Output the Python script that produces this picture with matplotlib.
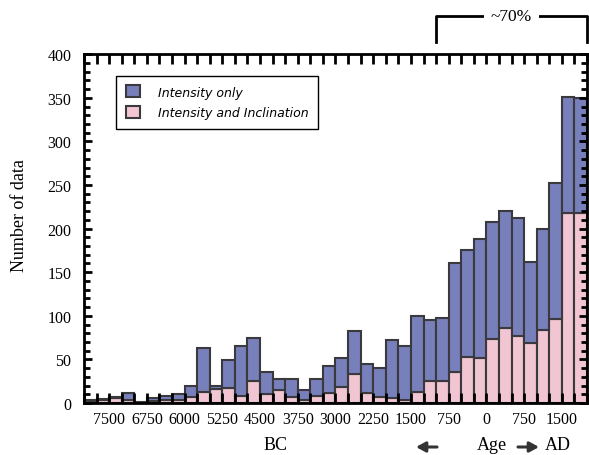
"""
Histograma empilhado do número de dados arqueomagnéticos por idade.
"""

import matplotlib.pyplot as plt
import numpy as np
from matplotlib.patches import Patch
from matplotlib.ticker import MultipleLocator
import matplotlib.transforms as mtransforms

# bins de 250 anos, de 8000 a.C. até 2000 d.C. (BC negativo)
bin_inicio = np.arange(-8000, 2000, 250)
largura = 250

# total de dados por bin e a parte com inclinação
total = [3, 5, 7, 12, 1, 6, 8, 10, 19, 63, 20, 49, 65, 74, 36, 27,
         28, 15, 28, 43, 52, 83, 45, 40, 72, 65, 100, 95, 97, 160,
         176, 188, 208, 220, 212, 162, 199, 252, 351, 350]
intens_incl = [1, 3, 6, 4, 0, 2, 3, 4, 7, 13, 16, 17, 8, 25, 10, 15,
               7, 3, 8, 12, 18, 33, 12, 7, 6, 4, 13, 25, 25, 36,
               53, 52, 73, 86, 77, 69, 84, 96, 218, 218]
intens_only = [t - p for t, p in zip(total, intens_incl)]

xticks_pos = np.arange(-7500, 1501, 750)
xticks_lab = [str(abs(v)) for v in xticks_pos]

cor_azul = '#7880bb'
cor_rosa = '#f1c5d1'
cor_borda = '#3a3a3e'

plt.rcParams['font.family'] = ['Liberation Serif', 'DejaVu Serif']

fig = plt.figure(figsize=(5.89, 4.56), dpi=100)
ax = fig.add_axes([0.1426, 0.114, 0.854, 0.765])

ax.bar(bin_inicio, intens_incl, width=largura, align='edge',
       color=cor_rosa, edgecolor=cor_borda, linewidth=1.5, zorder=2)
ax.bar(bin_inicio, intens_only, width=largura, align='edge', bottom=intens_incl,
       color=cor_azul, edgecolor=cor_borda, linewidth=1.5, zorder=2)

ax.set_xlim(-8000, 2000)
ax.set_ylim(0, 400)

ax.set_xticks(xticks_pos)
ax.set_xticklabels(xticks_lab)
ax.xaxis.set_minor_locator(MultipleLocator(250))
ax.yaxis.set_major_locator(MultipleLocator(50))
ax.yaxis.set_minor_locator(MultipleLocator(10))

ax.tick_params(which='both', direction='in', top=True, right=True,
               width=2, labelsize=11.5, color='black')
ax.tick_params(axis='x', which='both', length=7, pad=6)
ax.tick_params(axis='y', which='major', length=6, pad=9)
ax.tick_params(axis='y', which='minor', length=4)
for s in ax.spines.values():
    s.set_linewidth(2)
    s.set_zorder(5)
ax.set_axisbelow(False)

ax.set_ylabel('Number of data', fontsize=13)
ax.yaxis.set_label_coords(-0.112, 0.54)

# legenda
handles = [Patch(facecolor=cor_azul, edgecolor=cor_borda, linewidth=1.5, label='Intensity only'),
           Patch(facecolor=cor_rosa, edgecolor=cor_borda, linewidth=1.5, label='Intensity and Inclination')]
leg = ax.legend(handles=handles, loc='upper left', bbox_to_anchor=(0.052, 0.955),
                frameon=True, fancybox=False, edgecolor='black', framealpha=1,
                handlelength=1.1, handleheight=1.1, handletextpad=1.5,
                borderpad=0.75, labelspacing=0.6,
                prop={'family': 'DejaVu Sans', 'style': 'italic', 'size': 9.0})
leg.get_frame().set_linewidth(1.0)

# colchete do ~70% acima do gráfico
trans = mtransforms.blended_transform_factory(ax.transData, ax.transAxes)
ax.plot([-1000, -1000, 2000, 2000], [1.034, 1.109, 1.109, 1.034],
        transform=trans, color='black', lw=2, clip_on=False, zorder=6)
ax.text(500, 1.109, '~70%', transform=trans, ha='center', va='center',
        fontsize=12.5, zorder=7,
        bbox=dict(facecolor='white', edgecolor='none', pad=5))

# rótulos de idade abaixo do eixo
fig.text(276 / 589, 1 - 446 / 456, 'BC', ha='center', va='center', fontsize=13)
fig.text(492 / 589, 1 - 446 / 456, 'Age', ha='center', va='center', fontsize=13)
fig.text(558 / 589, 1 - 446 / 456, 'AD', ha='center', va='center', fontsize=13)
for x0, x1 in [(437, 416), (518, 539)]:
    fig.add_artist(plt.Annotation('', xy=(x1 / 589, 1 - 448 / 456),
                                  xytext=(x0 / 589, 1 - 448 / 456),
                                  xycoords='figure fraction',
                                  arrowprops=dict(arrowstyle='-|>,head_length=0.55,head_width=0.3',
                                                  color='#333333', lw=2.2, shrinkA=0, shrinkB=0)))

fig.savefig('out.png', dpi=100)
